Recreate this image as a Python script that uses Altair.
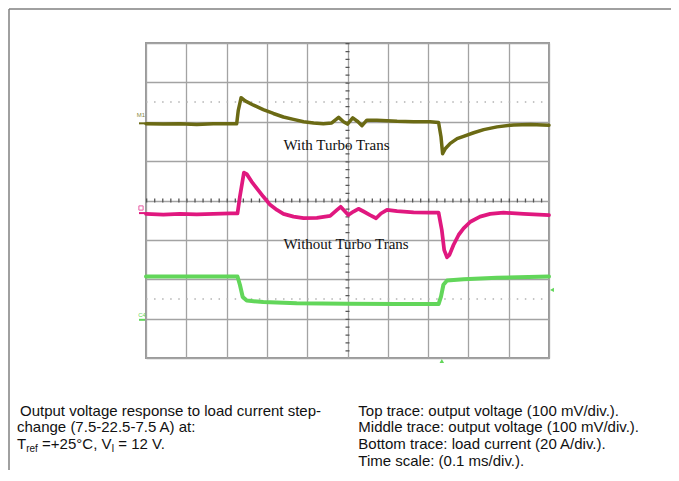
import altair as alt
import pandas as pd

# ---- data (x: time divisions 0-10, y: vertical divisions 0-8) ----
top_x = [0.00, 0.43, 0.84, 1.26, 1.67, 2.09, 2.25, 2.29, 2.36, 2.46, 2.67, 2.91, 3.16, 3.41, 3.66,
         3.91, 4.16, 4.40, 4.61, 4.78, 4.90, 5.00, 5.13, 5.26, 5.36, 5.48, 5.73, 6.23, 6.64, 7.05,
         7.26, 7.32, 7.36, 7.43, 7.55, 7.72, 7.88, 8.13, 8.38, 8.71, 9.12, 9.54, 10.00]
top_y = [5.95, 5.94, 5.95, 5.93, 5.95, 5.95, 5.95, 6.29, 6.61, 6.53, 6.42, 6.31, 6.21, 6.12, 6.06,
         6.00, 5.97, 5.95, 5.97, 6.11, 6.00, 5.94, 6.10, 6.00, 5.90, 6.04, 6.04, 6.01, 6.00, 6.00,
         5.98, 5.62, 5.19, 5.32, 5.45, 5.57, 5.63, 5.72, 5.80, 5.87, 5.92, 5.93, 5.91]

mid_x = [0.00, 0.43, 0.84, 1.26, 1.67, 2.09, 2.27, 2.33, 2.43, 2.50, 2.62, 2.75, 2.91, 3.08, 3.25,
         3.41, 3.66, 3.91, 4.24, 4.57, 4.74, 4.83, 4.94, 5.02, 5.15, 5.27, 5.40, 5.56, 5.71, 5.83,
         5.98, 6.23, 6.64, 7.05, 7.26, 7.34, 7.40, 7.47, 7.53, 7.63, 7.76, 7.88, 8.05, 8.29, 8.54,
         8.87, 9.37, 10.00]
mid_y = [3.66, 3.64, 3.66, 3.65, 3.66, 3.67, 3.67, 4.10, 4.71, 4.67, 4.48, 4.31, 4.10, 3.89, 3.76,
         3.66, 3.59, 3.55, 3.56, 3.61, 3.76, 3.84, 3.72, 3.63, 3.72, 3.79, 3.72, 3.63, 3.55, 3.67,
         3.76, 3.73, 3.70, 3.69, 3.69, 3.25, 2.74, 2.56, 2.62, 2.87, 3.13, 3.29, 3.46, 3.59, 3.66,
         3.69, 3.66, 3.63]

bot_x = [0.00, 0.84, 1.67, 2.27, 2.33, 2.40, 2.50, 2.91, 3.74, 5.00, 6.23, 7.26, 7.32, 7.38, 7.47,
         7.88, 8.71, 10.00]
bot_y = [2.07, 2.07, 2.07, 2.07, 1.86, 1.55, 1.46, 1.42, 1.39, 1.38, 1.37, 1.37, 1.56, 1.86, 1.97,
         2.00, 2.04, 2.07]

trace_names = ["With Turbo Trans", "Without Turbo Trans", "Load current"]
trace_colors = ["#6b6a14", "#e0187f", "#62d65a"]
trace_widths = [3.5, 4.0, 2.6]

x_grid = list(range(11))
y_grid = list(range(9))
dotted_levels = [6.5, 1.5]

label_texts = ["With Turbo Trans", "Without Turbo Trans"]
label_x = [3.41, 3.41]
label_y = [5.28, 2.76]

caption_left = ["Output voltage response to load current step-",
                "change (7.5-22.5-7.5 A) at:"]
caption_right = ["Top trace: output voltage (100 mV/div.).",
                 "Middle trace: output voltage (100 mV/div.).",
                 "Bottom trace: load current (20 A/div.).",
                 "Time scale: (0.1 ms/div.)."]

# ---- build tables ----
rows = []
for name, xs, ys in zip(trace_names, [top_x, mid_x, bot_x], [top_y, mid_y, bot_y]):
    for i, (a, b) in enumerate(zip(xs, ys)):
        rows.append({"trace": name, "i": i, "x": a, "y": b})
traces = pd.DataFrame(rows)

W, H = 403, 315
xs = alt.Scale(domain=[0, 10], nice=False, zero=False)
ys = alt.Scale(domain=[0, 8], nice=False, zero=False)
X = lambda f="x": alt.X(f"{f}:Q", scale=xs,
                        axis=alt.Axis(values=x_grid, grid=True, labels=False, ticks=False,
                                      domain=False, title=None))
Y = lambda f="y": alt.Y(f"{f}:Q", scale=ys,
                        axis=alt.Axis(values=y_grid, grid=True, labels=False, ticks=False,
                                      domain=False, title=None))

one = pd.DataFrame({"a": [0]})

dotted = alt.Chart(pd.DataFrame({"y": dotted_levels})).mark_rule(
    color="#b3b3b3", strokeWidth=1.5, strokeDash=[1.5, 6.56]
).encode(y=Y(), x=alt.value(0), x2=alt.value(W))

center_h = alt.Chart(pd.DataFrame({"y": [4]})).mark_rule(
    color="#555555", strokeWidth=4, strokeDash=[1.3, 6.76]
).encode(y=Y(), x=alt.value(0), x2=alt.value(W))

center_v = alt.Chart(pd.DataFrame({"x": [5]})).mark_rule(
    color="#555555", strokeWidth=4, strokeDash=[1.3, 6.575]
).encode(x=X(), y=alt.value(0), y2=alt.value(H))

lines = alt.Chart(traces).mark_line(strokeJoin="round", strokeCap="round").encode(
    x=X(), y=Y(),
    color=alt.Color("trace:N", scale=alt.Scale(domain=trace_names, range=trace_colors), legend=None),
    strokeWidth=alt.StrokeWidth("trace:N", scale=alt.Scale(domain=trace_names, range=trace_widths),
                                legend=None),
    order="i:Q",
)

labels = alt.Chart(pd.DataFrame({"t": label_texts, "x": label_x, "y": label_y})).mark_text(
    font="Liberation Serif", fontSize=15, align="left", baseline="alphabetic", color="#111111"
).encode(x=X(), y=Y(), text="t:N")

# channel markers at the plot edges
marker_y = [5.96, 3.68, 0.97]
left_marks = alt.Chart(pd.DataFrame({"y": marker_y, "trace": trace_names})).mark_rule(
    strokeWidth=2
).encode(y=Y(), x=alt.value(-7), x2=alt.value(-1),
         color=alt.Color("trace:N", scale=alt.Scale(domain=trace_names, range=trace_colors), legend=None))
tag_olive = alt.Chart(one).mark_text(text="M1", fontSize=6, color="#8a8a40", font="Liberation Sans").encode(
    x=alt.value(-5), y=alt.value(72))
tag_mag = alt.Chart(one).mark_point(shape="square", size=18, color="#e0187f", strokeWidth=1).encode(
    x=alt.value(-5), y=alt.value(165))
tag_green = alt.Chart(one).mark_text(text="C4", fontSize=6, color="#62d65a", font="Liberation Sans").encode(
    x=alt.value(-4), y=alt.value(272))
right_arrow = alt.Chart(pd.DataFrame({"y": [1.73]})).mark_point(
    shape="triangle-left", size=20, filled=True, color="#62d65a", opacity=1
).encode(y=Y(), x=alt.value(W + 3))
bottom_arrow = alt.Chart(pd.DataFrame({"x": [7.34]})).mark_point(
    shape="triangle-up", size=20, filled=True, color="#62d65a", opacity=1
).encode(x=X(), y=alt.value(H + 3))

# outer frame (top and left edges)
frame_top = alt.Chart(one).mark_rule(color="#808080", strokeWidth=1.5).encode(
    x=alt.value(-137), x2=alt.value(530), y=alt.value(-34))
frame_left = alt.Chart(one).mark_rule(color="#808080", strokeWidth=1.5).encode(
    x=alt.value(-137), y=alt.value(-34), y2=alt.value(427))

# caption text (outside the plot area)
FONT = "Liberation Sans"
FS = 15
cap = []
base_y = [372.5, 389.3, 406.1, 422.9]
cap.append(alt.Chart(one).mark_text(text=caption_left[0], font=FONT, fontSize=FS, align="left",
                                     baseline="alphabetic", color="#111111").encode(
    x=alt.value(-126), y=alt.value(base_y[0])))
cap.append(alt.Chart(one).mark_text(text=caption_left[1], font=FONT, fontSize=FS, align="left",
                                     baseline="alphabetic", color="#111111").encode(
    x=alt.value(-129), y=alt.value(base_y[1])))
# third line with subscripts: T_ref =+25°C, V_I = 12 V.
pieces = [("T", FS, -129, 0), ("ref", 10, -119.8, 3), ("=+25°C, V", FS, -103.9, 0),
          ("I", 10, -34.6, 3), ("= 12 V.", FS, -27.7, 0)]
for t, fs, px, dy in pieces:
    cap.append(alt.Chart(one).mark_text(text=t, font=FONT, fontSize=fs, align="left",
                                         baseline="alphabetic", color="#111111").encode(
        x=alt.value(px), y=alt.value(base_y[2] + dy)))
for k, line in enumerate(caption_right):
    cap.append(alt.Chart(one).mark_text(text=line, font=FONT, fontSize=FS, align="left",
                                         baseline="alphabetic", color="#111111").encode(
        x=alt.value(212.3), y=alt.value(base_y[k])))

chart = alt.layer(
    dotted, center_h, center_v, lines, labels, left_marks, tag_olive, tag_mag, tag_green,
    right_arrow, bottom_arrow, frame_top, frame_left, *cap
).properties(
    width=W, height=H,
    autosize=alt.AutoSizeParams(type="none"),
    padding={"left": 138, "top": 35, "right": 122, "bottom": 112},
    background="white",
).configure_view(
    stroke="#9a9a9a", strokeWidth=2
).configure_axis(
    gridColor="#a3a3a3", gridWidth=1.3, gridOpacity=1
)

chart.save("out.html", embed_options={"renderer": "svg", "actions": False})
